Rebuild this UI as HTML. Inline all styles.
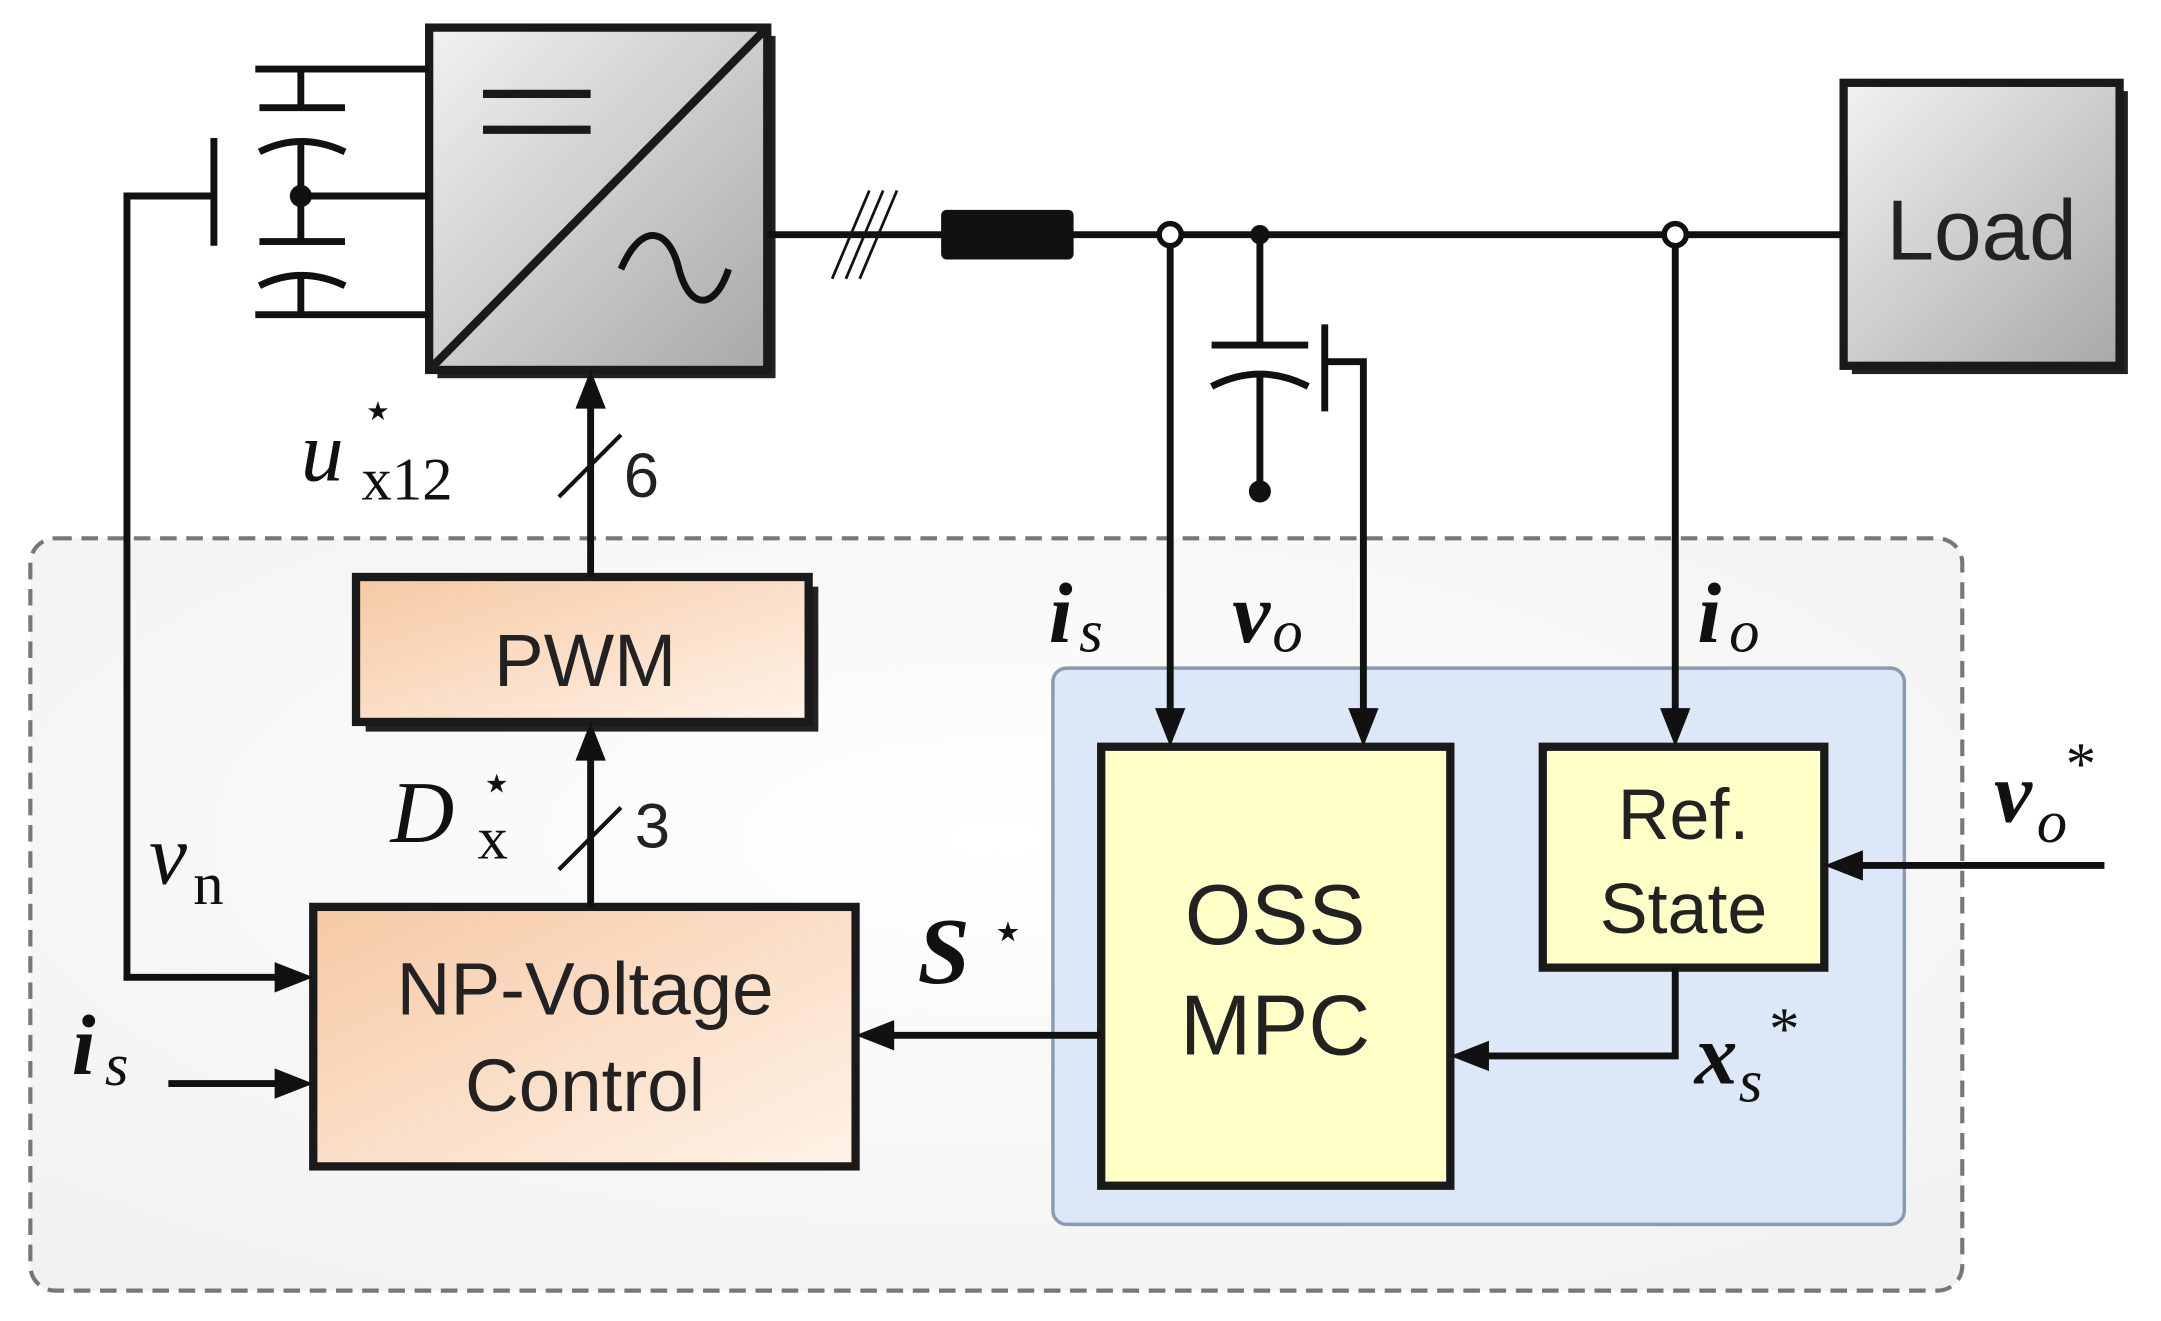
<!DOCTYPE html>
<html><head><meta charset="utf-8"><style>html,body{margin:0;padding:0;background:#fff}svg{display:block}</style></head><body>
<svg width="2161" height="1321" viewBox="0 0 1566 957" preserveAspectRatio="none" xmlns="http://www.w3.org/2000/svg">
<defs>
<linearGradient id="gray" x1="0" y1="0" x2="1" y2="1"><stop offset="0" stop-color="#f2f2f2"/><stop offset="1" stop-color="#a8a8a8"/></linearGradient>
<linearGradient id="peach" x1="0" y1="0" x2="1" y2="1"><stop offset="0" stop-color="#f6c9a4"/><stop offset="1" stop-color="#fff3e8"/></linearGradient>
<radialGradient id="bg" cx="0.5" cy="0.4" r="0.8"><stop offset="0" stop-color="#ffffff"/><stop offset="1" stop-color="#f0f0f0"/></radialGradient>
</defs>
<style>
.w{stroke:#111;stroke-width:5;fill:none}
.h{fill:#111}
.t{font-family:"Liberation Sans",sans-serif;fill:#222}
.m{font-family:"Liberation Serif",serif;font-style:italic;fill:#111}
.r{font-family:"Liberation Serif",serif;fill:#111}
</style>
<rect x="22" y="390" width="1400" height="545" rx="18" fill="url(#bg)" stroke="#777" stroke-width="3" stroke-dasharray="12,7"/>
<rect x="763" y="484" width="617" height="403" rx="10" fill="#dce8f8" stroke="#8a9ab0" stroke-width="2.5"/>
<rect x="798" y="541" width="253" height="318" fill="#ffffc8" stroke="#1a1a1a" stroke-width="6"/>
<text x="924" y="684" text-anchor="middle" class="t" font-size="62">OSS</text>
<text x="924" y="764" text-anchor="middle" class="t" font-size="62">MPC</text>
<rect x="1118" y="541" width="204" height="160" fill="#ffffc8" stroke="#1a1a1a" stroke-width="6"/>
<text x="1220" y="608" text-anchor="middle" class="t" font-size="52">Ref.</text>
<text x="1220" y="676" text-anchor="middle" class="t" font-size="52">State</text>
<rect x="227" y="657" width="393" height="188" fill="url(#peach)" stroke="#1a1a1a" stroke-width="6"/>
<text x="424" y="735" text-anchor="middle" class="t" font-size="54">NP-Voltage</text>
<text x="424" y="805" text-anchor="middle" class="t" font-size="54">Control</text>
<rect x="265" y="425" width="328" height="105" fill="#222"/>
<rect x="258" y="418" width="328" height="105" fill="url(#peach)" stroke="#1a1a1a" stroke-width="6"/>
<text x="424" y="497" text-anchor="middle" class="t" font-size="54">PWM</text>
<rect x="317" y="26" width="245" height="248" fill="#222"/>
<rect x="311" y="20" width="245" height="248" fill="url(#gray)" stroke="#1a1a1a" stroke-width="6"/>
<line x1="311" y1="268" x2="556" y2="20" stroke="#1a1a1a" stroke-width="6"/>
<line x1="350" y1="68" x2="428" y2="68" stroke="#1a1a1a" stroke-width="6"/>
<line x1="350" y1="94" x2="428" y2="94" stroke="#1a1a1a" stroke-width="6"/>
<path d="M450,195 C465,160 485,165 492,195 C500,225 518,225 528,195" class="w" stroke-width="6"/>
<rect x="1342" y="66" width="200" height="205" fill="#222"/>
<rect x="1336" y="60" width="200" height="205" fill="url(#gray)" stroke="#1a1a1a" stroke-width="6"/>
<text x="1436" y="188" text-anchor="middle" class="t" font-size="62">Load</text>
<line x1="556" y1="170" x2="1336" y2="170" class="w"/>
<line x1="603" y1="202" x2="630" y2="138" stroke="#111" stroke-width="2"/>
<line x1="613" y1="202" x2="640" y2="138" stroke="#111" stroke-width="2"/>
<line x1="623" y1="202" x2="650" y2="138" stroke="#111" stroke-width="2"/>
<rect x="682" y="152" width="96" height="36" rx="4" fill="#111"/>
<line x1="913" y1="170" x2="913" y2="250" class="w"/>
<line x1="878" y1="250" x2="948" y2="250" class="w"/>
<path d="M878,280 Q913,262 948,280" class="w"/>
<line x1="913" y1="272" x2="913" y2="355" class="w"/>
<circle cx="913" cy="356" r="8" fill="#111"/>
<circle cx="913" cy="170" r="7" fill="#111"/>
<line x1="960" y1="235" x2="960" y2="298" class="w"/>
<polyline points="960,262 988,262 988,520" class="w"/>
<polygon class="h" points="977,513 999,513 988,541"/>
<line x1="848" y1="178" x2="848" y2="520" class="w"/>
<polygon class="h" points="837,513 859,513 848,541"/>
<circle cx="848" cy="170" r="8" fill="#fff" stroke="#111" stroke-width="4"/>
<line x1="1214" y1="178" x2="1214" y2="520" class="w"/>
<polygon class="h" points="1203,513 1225,513 1214,541"/>
<circle cx="1214" cy="170" r="8" fill="#fff" stroke="#111" stroke-width="4"/>
<line x1="1525" y1="627" x2="1340" y2="627" class="w"/>
<polygon class="h" points="1350,616 1350,638 1322,627"/>
<polyline points="1214,701 1214,765 1070,765" class="w"/>
<polygon class="h" points="1079,754 1079,776 1051,765"/>
<line x1="798" y1="750" x2="640" y2="750" class="w"/>
<polygon class="h" points="648,739 648,761 620,750"/>
<line x1="428" y1="657" x2="428" y2="545" class="w"/>
<polygon class="h" points="417,551 439,551 428,523"/>
<line x1="405" y1="630" x2="450" y2="585" stroke="#111" stroke-width="3"/>
<line x1="428" y1="418" x2="428" y2="290" class="w"/>
<polygon class="h" points="417,296 439,296 428,268"/>
<line x1="405" y1="360" x2="450" y2="315" stroke="#111" stroke-width="3"/>
<polyline points="155,142 92,142 92,708 205,708" class="w"/>
<polygon class="h" points="199,697 199,719 227,708"/>
<line x1="122" y1="785" x2="205" y2="785" class="w"/>
<polygon class="h" points="199,774 199,796 227,785"/>
<line x1="155" y1="100" x2="155" y2="178" class="w"/>
<polyline points="311,50 185,50" class="w"/>
<polyline points="311,228 185,228" class="w"/>
<line x1="218" y1="50" x2="218" y2="78" class="w"/>
<line x1="188" y1="78" x2="250" y2="78" class="w"/>
<path d="M188,110 Q218,95 250,110" class="w"/>
<line x1="218" y1="102" x2="218" y2="175" class="w"/>
<line x1="188" y1="175" x2="250" y2="175" class="w"/>
<path d="M188,207 Q218,192 250,207" class="w"/>
<line x1="218" y1="199" x2="218" y2="228" class="w"/>
<line x1="218" y1="142" x2="311" y2="142" class="w"/>
<circle cx="218" cy="142" r="8" fill="#111"/>
<text x="760" y="465" class="m" font-size="62" font-weight="bold">i</text><text x="782" y="472" class="m" font-size="44">s</text>
<text x="893" y="465" class="m" font-size="62" font-weight="bold">v</text><text x="922" y="472" class="m" font-size="44">o</text>
<text x="1230" y="465" class="m" font-size="62" font-weight="bold">i</text><text x="1253" y="472" class="m" font-size="44">o</text>
<text x="1445" y="595" class="m" font-size="62" font-weight="bold">v</text><text x="1476" y="610" class="m" font-size="44">o</text>
<text x="1497" y="568" class="r" font-size="44">*</text>
<text x="1228" y="785" class="m" font-size="62" font-weight="bold">x</text><text x="1260" y="798" class="m" font-size="44">s</text>
<text x="1282" y="760" class="r" font-size="44">*</text>
<text x="665" y="712" class="m" font-size="68" font-weight="bold">S</text>
<text x="718" y="688" class="r" font-size="40">⋆</text>
<text x="52" y="778" class="m" font-size="62" font-weight="bold">i</text><text x="76" y="786" class="m" font-size="44">s</text>
<text x="108" y="640" class="m" font-size="62">v</text>
<text x="140" y="655" class="r" font-size="44">n</text>
<text x="283" y="610" class="m" font-size="64">D</text>
<text x="348" y="580" class="r" font-size="38">⋆</text>
<text x="346" y="622" class="r" font-size="44">x</text>
<text x="460" y="614" class="t" font-size="46">3</text>
<text x="218" y="348" class="m" font-size="62">u</text>
<text x="262" y="310" class="r" font-size="38">⋆</text>
<text x="262" y="362" class="r" font-size="44">x12</text>
<text x="452" y="360" class="t" font-size="46">6</text>
</svg>
</body></html>
